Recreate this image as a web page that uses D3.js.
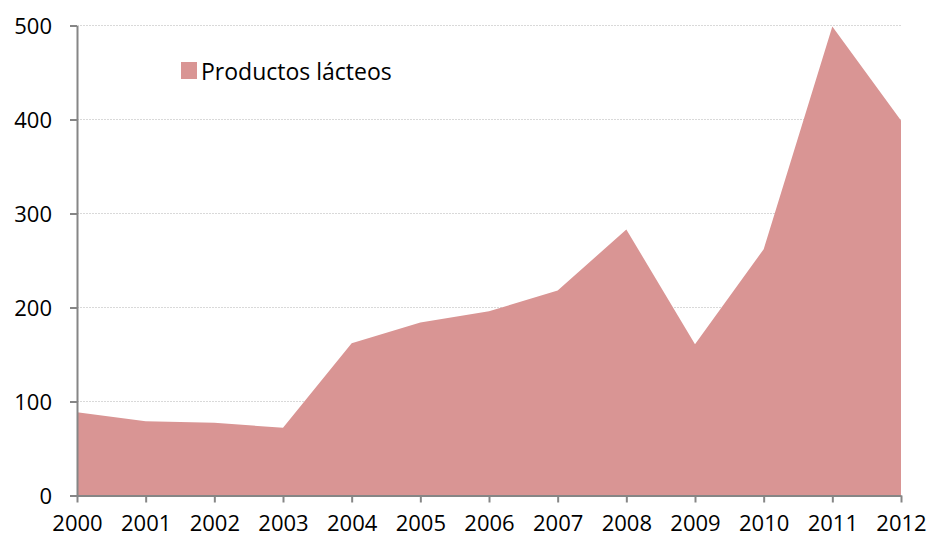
<!DOCTYPE html>
<html><head><meta charset="utf-8">
<script src="https://cdn.jsdelivr.net/npm/d3@7"></script>
<style>body{margin:0;background:#fff}svg{display:block}text{font-family:"Open Sans",sans-serif;fill:#000}</style>
</head><body>
<svg id="c" width="933" height="544"></svg>
<script>
const years = ["2000","2001","2002","2003","2004","2005","2006","2007","2008","2009","2010","2011","2012"];
const values = [88.5,79,77.5,72,162,184,196,218,283,161,262,499,399];
const yTicks = [0,100,200,300,400,500];
const seriesName = "Productos lácteos";

const svg = d3.select("#c");
const m = {l:77, r:901, t:25.5, b:495.5};
const x = d3.scalePoint().domain(years).range([m.l, m.r]);
const y = d3.scaleLinear().domain([0,500]).range([m.b, m.t]);

// gridlines
svg.append("g").selectAll("line").data(yTicks.filter(d=>d>0)).join("line")
  .attr("x1", m.l).attr("x2", m.r).attr("y1", d=>y(d)).attr("y2", d=>y(d))
  .attr("stroke", "#d9d9d9").attr("stroke-width", 1).attr("stroke-dasharray","2,1");

// area
const area = d3.area().x((d,i)=>x(years[i])).y0(y(0)).y1(d=>y(d));
svg.append("path").datum(values).attr("d", area).attr("fill", "#d99594");

// y axis
const ya = svg.append("g").attr("transform", `translate(${m.l},0)`)
  .call(d3.axisLeft(y).tickValues(yTicks).tickSize(7).tickPadding(18).tickSizeOuter(0));
ya.select(".domain").attr("stroke", "#868686").attr("stroke-width", 2);
ya.selectAll(".tick line").attr("stroke", "#868686").attr("stroke-width", 2);
ya.selectAll(".tick text").style("font-size","22px").attr("dy","0.36em");

// x axis
const xa = svg.append("g").attr("transform", `translate(0,${m.b})`)
  .call(d3.axisBottom(x).tickSize(7).tickPadding(13).tickSizeOuter(0));
xa.select(".domain").attr("stroke", "#868686").attr("stroke-width", 2);
xa.selectAll(".tick line").attr("stroke", "#868686").attr("stroke-width", 2);
xa.selectAll(".tick text").style("font-size","22px");

// legend
const lg = svg.append("g");
lg.append("rect").attr("x", 181).attr("y", 62).attr("width", 16).attr("height", 17).attr("fill", "#d99594");
lg.append("text").attr("x", 201).attr("y", 80).style("font-size","23px").text(seriesName);
</script>
</body></html>
